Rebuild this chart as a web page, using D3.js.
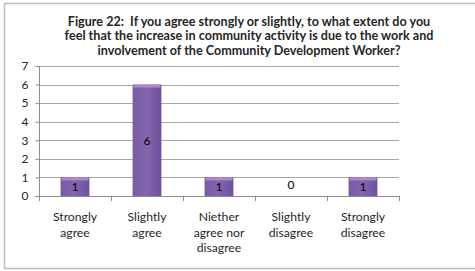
<!DOCTYPE html>
<html>
<head>
<meta charset="utf-8">
<script src="https://cdn.jsdelivr.net/npm/d3@7"></script>
<style>
  body { margin: 0; background: #fff; }
  svg { display: block; font-family: Lato, "Open Sans", sans-serif; }
</style>
</head>
<body>
<div id="chart"></div>
<script>
const categories = [["Strongly", "agree"], ["Slightly", "agree"], ["Niether", "agree nor", "disagree"], ["Slightly", "disagree"], ["Strongly", "disagree"]]
const counts = [1, 6, 1, 0, 1]
const yTicks = [0, 1, 2, 3, 4, 5, 6, 7]
const titleLines = [
	"Figure 22:  If you agree strongly or slightly, to what extent do you",
	"feel that the increase in community activity is due to the work and",
	"involvement of the Community Development Worker?"
]

const svg = d3.select("#chart").append("svg").attr("width", 475).attr("height", 271)

// gradient for the bars, a bit of a bevel like the original
const grad = svg.append("defs").append("linearGradient").attr("id", "barGrad").attr("x1", 0).attr("x2", 1).attr("y1", 0).attr("y2", 0)
grad.append("stop").attr("offset", "0%").attr("stop-color", "#7a5aa6")
grad.append("stop").attr("offset", "50%").attr("stop-color", "#8466ac")
grad.append("stop").attr("offset", "100%").attr("stop-color", "#6f4f9c")

// chart frame
svg.append("rect").attr("x", 4.5).attr("y", 3.5).attr("width", 480).attr("height", 265)
	.attr("fill", "#fff").attr("stroke", "#bdbdbd").attr("stroke-width", 1.5)

svg.append("g").selectAll("text").data(titleLines).join("text")
	.attr("x", 249).attr("y", (d, i) => 25.5 + i * 14.8)
	.attr("text-anchor", "middle").attr("font-size", 12.6).attr("font-weight", "bold").attr("fill", "#262626")
	.attr("xml:space", "preserve")
	.text(d => d)

const plotLeft = 39, plotRight = 399, plotTop = 66, plotBottom = 196
const xs = d3.scaleBand().domain(d3.range(counts.length)).range([plotLeft, plotRight]).paddingInner(0.6).paddingOuter(0.3)
const xOuter = d3.scaleBand().domain(d3.range(counts.length)).range([plotLeft, plotRight])
const ys = d3.scaleLinear().domain([0, 7]).range([plotBottom, plotTop])

// gridlines
svg.append("g").selectAll("line").data(yTicks.filter(d => d > 0)).join("line")
	.attr("x1", plotLeft).attr("x2", plotRight).attr("y1", d => Math.round(ys(d)) + 0.5).attr("y2", d => Math.round(ys(d)) + 0.5)
	.attr("stroke", "#a6a6a6").attr("stroke-width", 1)

// y axis
const yAxis = svg.append("g").attr("transform", `translate(${plotLeft + 0.5},0)`)
	.call(d3.axisLeft(ys).tickValues(yTicks).tickFormat(d3.format("d")).tickSize(4).tickPadding(7))
yAxis.select(".domain").attr("stroke", "#8c8c8c").attr("d", `M-4,${plotBottom + 0.5}H0V${plotTop}`)
yAxis.selectAll(".tick line").attr("stroke", "#8c8c8c")
yAxis.selectAll(".tick text").attr("font-size", 12).attr("fill", "#262626").attr("font-family", "Lato, sans-serif")

// x axis line and ticks at band edges
svg.append("line").attr("x1", plotLeft).attr("x2", plotRight).attr("y1", plotBottom + 0.5).attr("y2", plotBottom + 0.5).attr("stroke", "#8c8c8c")
svg.append("g").selectAll("line").data(d3.range(counts.length + 1)).join("line")
	.attr("x1", d => Math.round(plotLeft + d * xOuter.bandwidth()) + 0.5)
	.attr("x2", d => Math.round(plotLeft + d * xOuter.bandwidth()) + 0.5)
	.attr("y1", plotBottom).attr("y2", plotBottom + 5).attr("stroke", "#8c8c8c")

// bars
const bars = svg.append("g").selectAll("g").data(counts).join("g")
bars.append("rect")
	.attr("x", (d, i) => xs(i)).attr("width", xs.bandwidth())
	.attr("y", d => ys(d)).attr("height", d => ys(0) - ys(d))
	.attr("fill", "url(#barGrad)")
// lighter bevel on top of each bar
bars.each(function (d, i) {
	if (d > 0) d3.select(this).append("rect")
		.attr("x", xs(i) + 1).attr("width", xs.bandwidth() - 2)
		.attr("y", ys(d)).attr("height", 3)
		.attr("fill", "#a58ccb")
})

// data labels
bars.append("text")
	.attr("x", (d, i) => xs(i) + xs.bandwidth() / 2)
	.attr("y", d => d > 0 ? (ys(d) + ys(0)) / 2 + 4.5 : ys(0) - 7.5)
	.attr("text-anchor", "middle").attr("font-size", 12).attr("fill", "#000")
	.text(d => d)

// category labels
svg.append("g").selectAll("text").data(categories).join("text")
	.attr("x", (d, i) => xOuter(i) + xOuter.bandwidth() / 2)
	.attr("y", 221)
	.attr("text-anchor", "middle").attr("font-size", 12.2).attr("fill", "#262626")
	.selectAll("tspan").data(d => d).join("tspan")
		.attr("x", function () { return this.parentNode.getAttribute("x") })
		.attr("dy", (d, i) => i === 0 ? 0 : 15.5)
		.text(d => d)
</script>
</body>
</html>
